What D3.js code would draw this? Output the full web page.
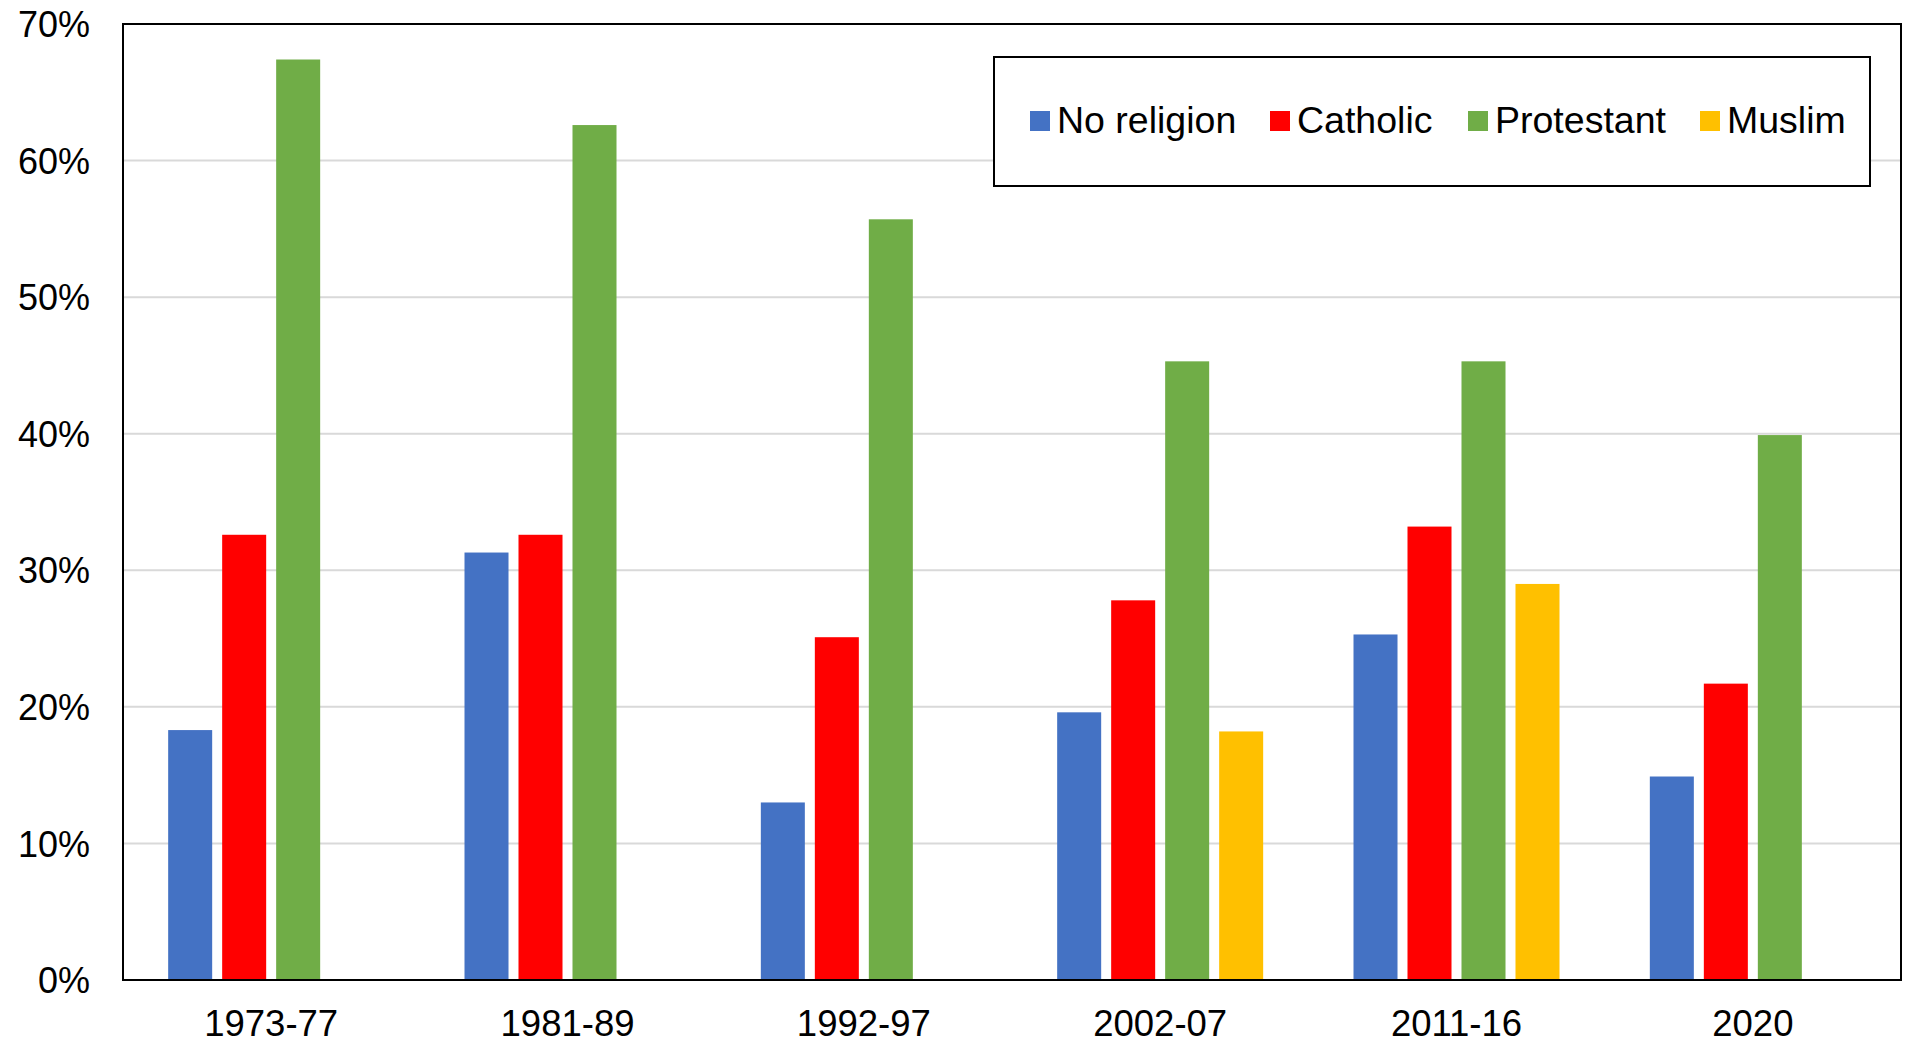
<!DOCTYPE html>
<html>
<head>
<meta charset="utf-8">
<script src="https://cdn.jsdelivr.net/npm/d3@7"></script>
<style>
  html, body { margin: 0; padding: 0; background: #fff; }
  svg { display: block; }
  text { font-family: "Liberation Sans", Arial, sans-serif; fill: #000; }
</style>
</head>
<body>
<svg id="chart" width="1906" height="1044"></svg>
<script>
const categories = ["1973-77", "1981-89", "1992-97", "2002-07", "2011-16", "2020"];
const seriesNames = ["No religion", "Catholic", "Protestant", "Muslim"];
const noReligion = [18.3, 31.3, 13.0, 19.6, 25.3, 14.9];
const catholic   = [32.6, 32.6, 25.1, 27.8, 33.2, 21.7];
const protestant = [67.4, 62.6, 55.7, 45.3, 45.3, 39.9];
const muslim     = [null, null, null, 18.2, 29.0, null];
const yTicks = [0, 10, 20, 30, 40, 50, 60, 70];
const colors = ["#4472C4", "#FF0000", "#70AD47", "#FFC000"];

const seriesValues = [noReligion, catholic, protestant, muslim];

const svg = d3.select("#chart");
const L = 123, R = 1901, T = 24, B = 980;

const x0 = d3.scaleBand().domain(categories).range([L, R]).padding(0);
const bw = x0.bandwidth();
const groupW = 206;
const x1 = d3.scaleBand().domain(seriesNames)
  .range([(bw - groupW) / 2, (bw + groupW) / 2])
  .paddingInner(0.185).paddingOuter(0);
const y = d3.scaleLinear().domain([0, 70]).range([B, T]);

// gridlines
svg.append("g")
  .selectAll("line")
  .data(yTicks.filter(t => t > 0 && t < 70))
  .join("line")
  .attr("x1", L).attr("x2", R)
  .attr("y1", d => y(d)).attr("y2", d => y(d))
  .attr("stroke", "#d9d9d9").attr("stroke-width", 2);

// bars
const flat = [];
categories.forEach((c, i) => {
  seriesNames.forEach((s, j) => {
    const v = seriesValues[j][i];
    if (v !== null && v !== undefined) flat.push({ c, s, v, j });
  });
});
svg.append("g")
  .selectAll("rect")
  .data(flat)
  .join("rect")
  .attr("x", d => x0(d.c) + x1(d.s))
  .attr("width", x1.bandwidth())
  .attr("y", d => y(d.v))
  .attr("height", d => B - y(d.v))
  .attr("fill", d => colors[d.j]);

// y axis labels
const yAxis = d3.axisLeft(y).tickValues(yTicks).tickSize(0).tickPadding(0)
  .tickFormat(d => d + "%");
const yg = svg.append("g").attr("transform", `translate(90,0)`).call(yAxis);
yg.select(".domain").remove();
yg.selectAll("text").attr("font-size", 36).attr("font-family", "Liberation Sans, Arial, sans-serif").attr("fill", "#000").attr("dy", "0.35em");

// x axis labels
const xAxis = d3.axisBottom(x0).tickSize(0).tickPadding(0);
const xg = svg.append("g").attr("transform", `translate(0,${B})`).call(xAxis);
xg.select(".domain").remove();
xg.selectAll("text").attr("font-size", 36.5).attr("font-family", "Liberation Sans, Arial, sans-serif").attr("fill", "#000").attr("y", 55.5).attr("dy", 0);

// plot border
svg.append("rect")
  .attr("x", L).attr("y", T).attr("width", R - L).attr("height", B - T)
  .attr("fill", "none").attr("stroke", "#000").attr("stroke-width", 2);

// legend
const lg = svg.append("g");
lg.append("rect")
  .attr("x", 994).attr("y", 57).attr("width", 876).attr("height", 129)
  .attr("fill", "#fff").attr("stroke", "#000").attr("stroke-width", 2);
const legendX = [1030, 1270, 1468, 1700];
seriesNames.forEach((s, j) => {
  lg.append("rect").attr("x", legendX[j]).attr("y", 111).attr("width", 20).attr("height", 20).attr("fill", colors[j]);
  lg.append("text").attr("x", legendX[j] + 27).attr("y", 133).attr("font-size", 37.5).text(s);
});
</script>
</body>
</html>
